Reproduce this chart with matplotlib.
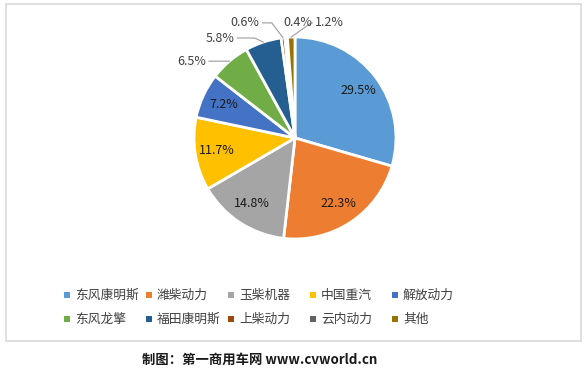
import numpy as np
import matplotlib
matplotlib.use('Agg')
import matplotlib.pyplot as plt
import matplotlib.patches as patches

plt.rcParams['font.family'] = ['Noto Sans CJK SC', 'DejaVu Sans']

# Data
engines = ['东风康明斯', '潍柴动力', '玉柴机器', '中国重汽', '解放动力',
           '东风龙擎', '福田康明斯', '上柴动力', '云内动力', '其他']
shares = [29.5, 22.3, 14.8, 11.7, 7.2, 6.5, 5.8, 0.6, 0.4, 1.2]
colors = ['#5B9BD5', '#ED7D31', '#A5A5A5', '#FFC000', '#4472C4',
          '#70AD47', '#255E91', '#9E480E', '#636363', '#997300']

W, H = 586, 376
fig = plt.figure(figsize=(W / 100, H / 100), dpi=100)

# outer frame
fig.patches.append(patches.Rectangle((6 / W, 1 - 341 / H), 575 / W, 337 / H,
                                     transform=fig.transFigure, fill=False,
                                     edgecolor='#D9D9D9', linewidth=1.2))

# pie axes: centre (295,138) px, radius 101 px
cx, cy, r = 295, 138, 101
ax = fig.add_axes([(cx - r) / W, 1 - (cy + r) / H, 2 * r / W, 2 * r / H])

wedges, _ = ax.pie(shares, colors=colors, startangle=90, counterclock=False,
                   wedgeprops=dict(edgecolor='white', linewidth=2))
ax.set_xlim(-1, 1)
ax.set_ylim(-1, 1)
ax.set_aspect('equal')
ax.axis('off')

# label placement: inside for big slices, outside with leader for small
# (text anchor x, y, ha, elbow x) in radius units
outside = {
    5: (-0.88, 0.76, 'right', None),
    6: (-0.60, 0.99, 'right', -0.40),
    7: (-0.35, 1.14, 'right', -0.23),
    8: (0.03, 1.14, 'center', None),
    9: (0.20, 1.14, 'left', 0.16),
}
for i, (w, s) in enumerate(zip(wedges, shares)):
    ang = np.deg2rad((w.theta1 + w.theta2) / 2)
    label = f'{s}%'
    if i in outside:
        tx, ty, ha, ex = outside[i]
        ax.text(tx, ty, label, ha=ha, va='center', fontsize=9,
                color='#404040', clip_on=False)
        if i == 8:
            continue
        px, py = np.cos(ang), np.sin(ang)
        x0 = tx + (0.03 if ha == 'right' else -0.03)
        if ex is None:
            xs, ys = [x0, px], [ty, py]
        else:
            xs, ys = [x0, ex, px], [ty, ty, py]
        ax.plot(xs, ys, color='#A6A6A6', linewidth=0.9, clip_on=False)
    else:
        ax.text(0.78 * np.cos(ang), 0.78 * np.sin(ang), label, ha='center',
                va='center', fontsize=9, color='#1a1a1a')

# legend: 2 rows x 5 columns, fixed column width like the original
col_x = 67
step = 82
row_y = [295, 319]
for i, (name, c) in enumerate(zip(engines, colors)):
    col, row = i % 5, i // 5
    x = col_x + col * step
    y = row_y[row]
    fig.patches.append(patches.Rectangle(((x - 3) / W, 1 - (y + 3) / H),
                                         6 / W, 6 / H,
                                         transform=fig.transFigure,
                                         facecolor=c, edgecolor='none'))
    fig.text((x + 8) / W, 1 - y / H, name, ha='left', va='center',
             fontsize=9.2, color='#404040')

# caption
fig.text(260 / W, 1 - 360 / H, '制图：第一商用车网 www.cvworld.cn',
         ha='center', va='center', fontsize=9.6, fontweight='bold',
         color='#1a1a1a')

fig.savefig('out.png', dpi=100)
